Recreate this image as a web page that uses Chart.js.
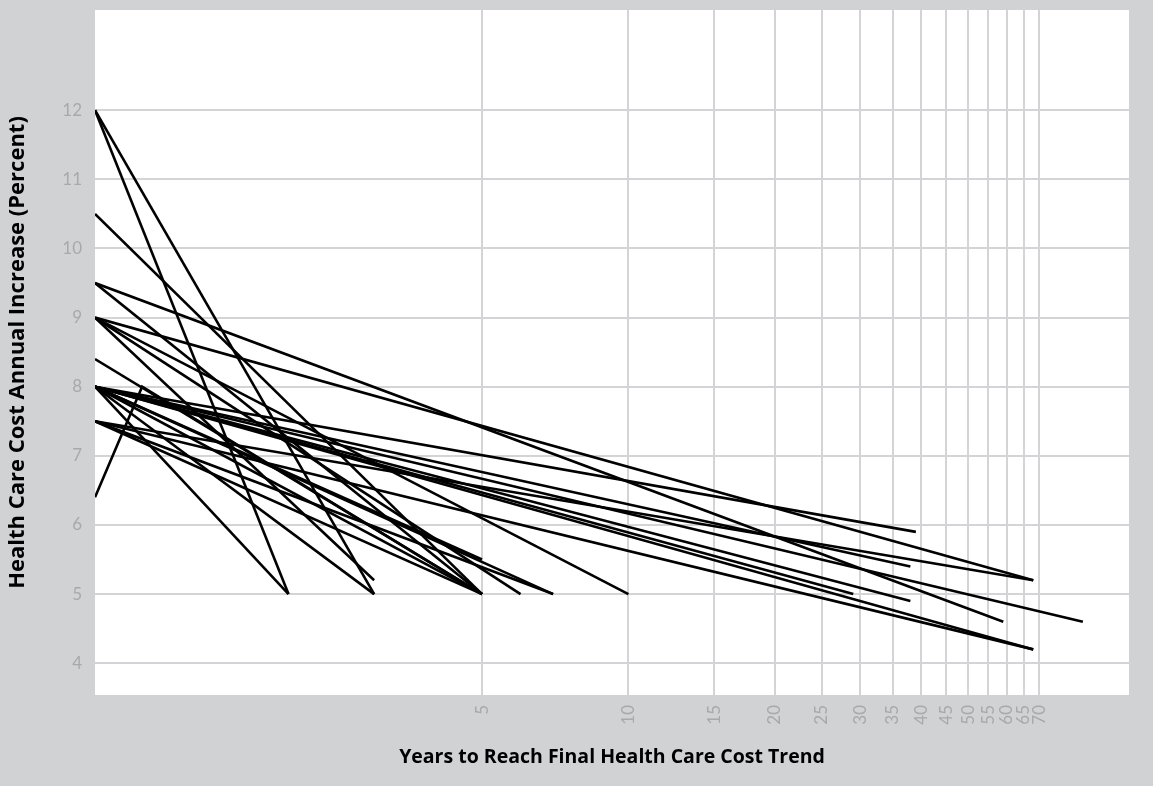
<!DOCTYPE html>
<html>
<head>
<meta charset="utf-8">
<script src="https://cdn.jsdelivr.net/npm/chart.js@4.4.0/dist/chart.umd.min.js"></script>
<style>
  html, body { margin: 0; padding: 0; background: #d1d2d4; }
  #wrap { width: 1153px; height: 786px; }
</style>
</head>
<body>
<div id="wrap"><canvas id="myChart" width="1153" height="786"></canvas></div>
<script>
// every line runs from the starting rate to the final rate in the year it is reached
const startYear = 0.8;
const startRates = [12, 12, 10.5, 9.5, 9.5, 9, 9, 9, 9, 8.4, 8, 8, 8, 8, 8, 8, 8, 8, 8, 8, 8, 7.5, 7.5, 7.5, 7.5];
const endYears   = [2, 3, 5, 5, 59, 68, 10, 6, 3, 5, 2, 3, 5, 5, 39, 38, 86, 38, 29, 68, 7, 68, 68, 5, 7];
const endRates   = [5, 5, 5, 5, 4.6, 5.2, 5, 5, 5.2, 5, 5, 5, 5.5, 5, 5.9, 5.4, 4.6, 4.9, 5, 4.2, 5, 5.2, 4.2, 5, 5];

// one plan starts low, jumps in year one, then trends down
const bentYears = [0.8, 1, 5];
const bentRates = [6.4, 8, 5];

const xTicks = [5, 10, 15, 20, 25, 30, 35, 40, 45, 50, 55, 60, 65, 70];
const yTicks = [4, 5, 6, 7, 8, 9, 10, 11, 12];

const datasets = startRates.map((r, i) => ({
  data: [{x: startYear, y: r}, {x: endYears[i], y: endRates[i]}]
}));
datasets.push({ data: bentYears.map((x, i) => ({x: x, y: bentRates[i]})) });
datasets.forEach(d => {
  d.borderColor = '#000';
  d.borderWidth = 2.6;
  d.pointRadius = 0;
  d.tension = 0;
});

const bgPlugin = {
  id: 'bg',
  beforeDraw(chart) {
    const {ctx, chartArea: a} = chart;
    ctx.save();
    ctx.fillStyle = '#d1d2d4';
    ctx.fillRect(0, 0, chart.width, chart.height);
    ctx.fillStyle = '#ffffff';
    ctx.fillRect(a.left, a.top, a.right - a.left, a.bottom - a.top);
    ctx.restore();
  }
};

const tickFont = { family: 'Lato', size: 17 };
const gridColor = '#d4d4d6';

new Chart(document.getElementById('myChart'), {
  type: 'line',
  data: { datasets: datasets },
  plugins: [bgPlugin],
  options: {
    responsive: false,
    animation: false,
    layout: { padding: { top: 10, right: 24, left: 0, bottom: 0 } },
    plugins: { legend: { display: false }, tooltip: { enabled: false } },
    scales: {
      x: {
        type: 'logarithmic',
        min: 0.8,
        max: 107,
        afterBuildTicks: s => { s.ticks = xTicks.map(v => ({value: v})); },
        afterFit: s => { s.height = 91; s.paddingLeft = 0; s.paddingRight = 0; },
        border: { display: false },
        grid: { color: gridColor, lineWidth: 2, drawTicks: false },
        ticks: {
          color: '#a7a9ac', font: tickFont, padding: 10,
          minRotation: 90, maxRotation: 90, autoSkip: false,
          callback: v => String(v)
        },
        title: {
          display: true,
          text: 'Years to Reach Final Health Care Cost Trend',
          color: '#000',
          font: { family: 'Open Sans', size: 19.5, weight: 'bold' },
          padding: { top: 0, bottom: 17 }
        }
      },
      y: {
        type: 'linear',
        min: 3.54,
        max: 13.45,
        afterBuildTicks: s => { s.ticks = yTicks.map(v => ({value: v})); },
        afterFit: s => { s.width = 95; s.paddingTop = 0; s.paddingBottom = 0; },
        border: { display: false },
        grid: { color: gridColor, lineWidth: 2, drawTicks: false },
        ticks: { color: '#a7a9ac', font: tickFont, padding: 13 },
        title: {
          display: true,
          text: 'Health Care Cost Annual Increase (Percent)',
          color: '#000',
          font: { family: 'Open Sans', size: 22, weight: 'bold' },
          padding: { top: 5, bottom: 0 }
        }
      }
    }
  }
});
</script>
</body>
</html>
